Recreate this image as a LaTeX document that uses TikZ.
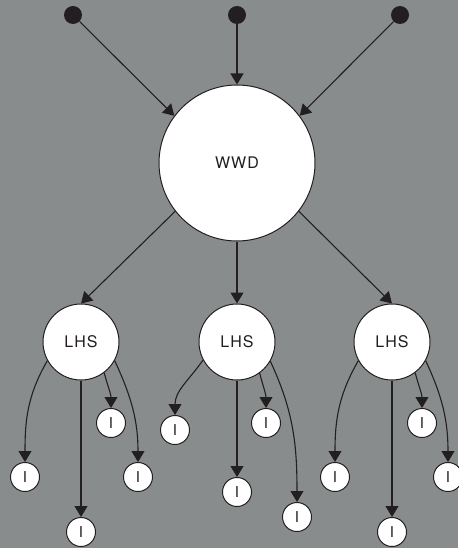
\documentclass[tikz,border=0pt]{standalone}
\usepackage{fontspec}
\setsansfont[LetterSpace=6]{TeX Gyre Heros}
\usetikzlibrary{arrows.meta}
\definecolor{bg}{RGB}{136,140,141}
\definecolor{ink}{RGB}{35,31,32}
\tikzset{
  dot/.style={circle,fill=ink,inner sep=0pt,minimum size=18pt},
  big/.style={circle,draw=ink,line width=1pt,fill=white,minimum size=156pt,inner sep=0pt,font=\sffamily\fontsize{16}{16}\selectfont,text=ink},
  mid/.style={circle,draw=ink,line width=1pt,fill=white,minimum size=76pt,inner sep=0pt,font=\sffamily\fontsize{16}{16}\selectfont,text=ink},
  leaf/.style={circle,draw=ink,line width=1pt,fill=white,minimum size=29pt,inner sep=0pt,font=\sffamily\fontsize{15}{15}\selectfont,text=ink},
  conn/.style={draw=ink,line width=1.1pt,-{Triangle[width=13pt,length=11pt]}},
}
\begin{document}
\begin{tikzpicture}[x=1pt,y=1pt]
\fill[bg] (0,0) rectangle (458,-548);
\useasboundingbox (0,0) rectangle (458,-548);
\node[dot] (d1) at (73,-15) {};
\node[dot] (d2) at (237,-15) {};
\node[dot] (d3) at (400,-15) {};
\node[big] (w) at (237,-163) {WWD};
\node[mid] (l1) at (81,-342) {LHS};
\node[mid] (l2) at (237,-342) {LHS};
\node[mid] (l3) at (392,-342) {LHS};
% leaves of l1
\node[leaf] (a1) at (25,-477) {I};
\node[leaf] (b1) at (81,-532) {I};
\node[leaf] (c1) at (111,-423) {I};
\node[leaf] (e1) at (138,-477) {I};
% leaves of l2
\node[leaf] (a2) at (175,-430) {I};
\node[leaf] (b2) at (237,-492) {I};
\node[leaf] (c2) at (266,-423) {I};
\node[leaf] (e2) at (297,-517) {I};
% leaves of l3
\node[leaf] (a3) at (335,-477) {I};
\node[leaf] (b3) at (392,-532) {I};
\node[leaf] (c3) at (422,-423) {I};
\node[leaf] (e3) at (448,-477) {I};
% top connectors
\draw[conn] (d1) -- (w.143);
\draw[conn] (d2) -- (w);
\draw[conn] (d3) -- (w.37);
% to LHS
\draw[conn] (w.218) -- (l1.north);
\draw[conn] (w) -- (l2);
\draw[conn] (w.322) -- (l3.north);
% l1
\draw[conn] (l1.209) to[out=240,in=90] (a1);
\draw[conn] (l1) -- (b1);
\draw[conn] (l1.307) to[out=285,in=90] (c1);
\draw[conn] (l1.331) to[out=295,in=90] (e1);
% l2
\draw[conn] (l2.208) to[out=235,in=90] (a2);
\draw[conn] (l2) -- (b2);
\draw[conn] (l2.306) to[out=285,in=90] (c2);
\draw[conn] (l2.330) to[out=295,in=90] (e2);
% l3
\draw[conn] (l3.209) to[out=240,in=90] (a3);
\draw[conn] (l3) -- (b3);
\draw[conn] (l3.307) to[out=285,in=90] (c3);
\draw[conn] (l3.331) to[out=295,in=90] (e3);
\end{tikzpicture}
\end{document}
